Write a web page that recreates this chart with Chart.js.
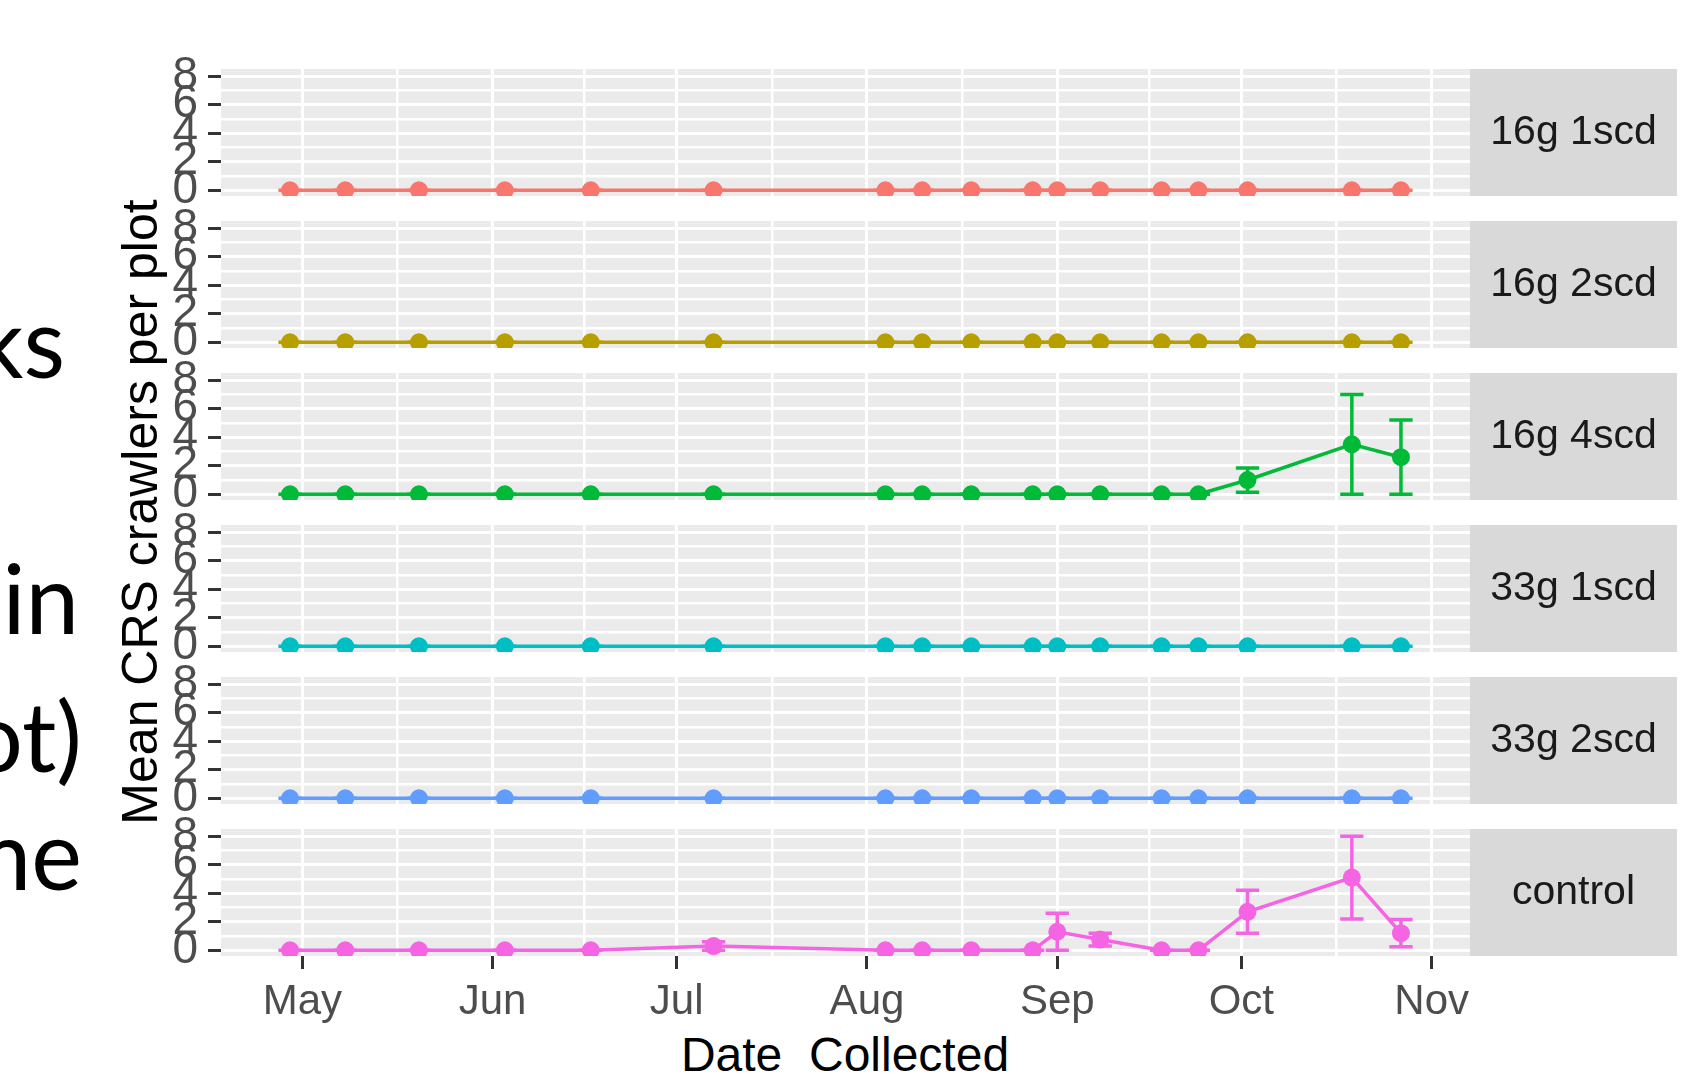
<!DOCTYPE html>
<html>
<head>
<meta charset="utf-8">
<script src="https://cdn.jsdelivr.net/npm/chart.js@4.4.1/dist/chart.umd.min.js"></script>
<style>
html,body{margin:0;padding:0;background:#fff;}
body{width:1695px;height:1074px;overflow:hidden;position:relative;}
canvas{position:absolute;left:0;}
.slide{position:absolute;width:400px;text-align:right;font-family:Lato,'Open Sans',sans-serif;font-size:96px;line-height:96px;height:96px;color:#000;white-space:nowrap;}
#ytitle{position:absolute;left:-210px;top:487px;width:700px;height:50px;line-height:50px;text-align:center;font-family:'Liberation Sans',Arial,sans-serif;font-size:50px;color:#000;transform:rotate(-90deg);white-space:pre;}
#xtitle{position:absolute;left:445px;top:1031px;width:800px;height:48px;line-height:48px;text-align:center;font-family:'Liberation Sans',Arial,sans-serif;font-size:48px;color:#000;white-space:pre;}
</style>
</head>
<body>
<div class="slide" style="left:-335px;top:293px;">works</div>
<div class="slide" style="left:-321px;top:549px;">in</div>
<div class="slide" style="left:-318px;top:687px;">(per plot)</div>
<div class="slide" style="left:-318px;top:805px;">time</div>
<div id="ytitle">Mean CRS crawlers per plot</div>
<div id="xtitle">Date  Collected</div>
<script>
// ---------------- data ----------------
const sampleDates = ['2019-04-29','2019-05-08','2019-05-20','2019-06-03','2019-06-17','2019-07-07','2019-08-04','2019-08-10','2019-08-18','2019-08-28','2019-09-01','2019-09-08','2019-09-18','2019-09-24','2019-10-02','2019-10-19','2019-10-27'];
const panelLabels = ['16g 1scd','16g 2scd','16g 4scd','33g 1scd','33g 2scd','control'];
const mean16g1scd = [0,0,0,0,0,0,0,0,0,0,0,0,0,0,0,0,0];
const se16g1scd   = [0,0,0,0,0,0,0,0,0,0,0,0,0,0,0,0,0];
const mean16g2scd = [0,0,0,0,0,0,0,0,0,0,0,0,0,0,0,0,0];
const se16g2scd   = [0,0,0,0,0,0,0,0,0,0,0,0,0,0,0,0,0];
const mean16g4scd = [0,0,0,0,0,0,0,0,0,0,0,0,0,0,1.0,3.5,2.6];
const se16g4scd   = [0,0,0,0,0,0,0,0,0,0,0,0,0,0,0.85,3.5,2.6];
const mean33g1scd = [0,0,0,0,0,0,0,0,0,0,0,0,0,0,0,0,0];
const se33g1scd   = [0,0,0,0,0,0,0,0,0,0,0,0,0,0,0,0,0];
const mean33g2scd = [0,0,0,0,0,0,0,0,0,0,0,0,0,0,0,0,0];
const se33g2scd   = [0,0,0,0,0,0,0,0,0,0,0,0,0,0,0,0,0];
const meanControl = [0,0,0,0,0,0.3,0,0,0,0,1.3,0.75,0,0,2.7,5.1,1.2];
const seControl   = [0,0,0,0,0,0.3,0,0,0,0,1.3,0.45,0,0,1.5,2.9,0.95];
const monthTickDates = ['2019-05-01','2019-06-01','2019-07-01','2019-08-01','2019-09-01','2019-10-01','2019-11-01'];
const monthTickLabels = ['May','Jun','Jul','Aug','Sep','Oct','Nov'];
const yTickValues = [0,2,4,6,8];

// ---------------- styling / layout ----------------
const seriesColors = ['#F8766D','#B79F00','#00BA38','#00BFC4','#619CFF','#F564E3'];
const panelMeans = [mean16g1scd,mean16g2scd,mean16g4scd,mean33g1scd,mean33g2scd,meanControl];
const panelSEs = [se16g1scd,se16g2scd,se16g4scd,se33g1scd,se33g2scd,seControl];
const panelTops = [69,221,373,525,677,829];
const PANEL_H = 127, PAD_TOP = 18, PAD_BOT = 18, LEFT_AXIS_W = 221, PANEL_RIGHT = 1470, STRIP_RIGHT = 1677, W = 1695;
const FONT = "'Liberation Sans', Arial, sans-serif";

const toDay = s => Date.UTC(+s.slice(0,4), +s.slice(5,7)-1, +s.slice(8,10)) / 864e5;
const sampleDays = sampleDates.map(toDay);
const majorX = monthTickDates.map(toDay);
const xMin = majorX[0] - 13.25, xMax = majorX[0] + 190.25;
const minorX = [];
for (let i = 0; i < majorX.length - 1; i++) minorX.push((majorX[i] + majorX[i+1]) / 2);
const xTickVals = majorX.concat(minorX).filter(v => v >= xMin && v <= xMax).sort((a,b)=>a-b);
const minorY = [];
for (let i = 0; i < yTickValues.length - 1; i++) minorY.push((yTickValues[i] + yTickValues[i+1]) / 2);
const yTickVals = yTickValues.concat(minorY).sort((a,b)=>a-b);
const CAP_DAYS = 1.9;

Chart.defaults.font.family = FONT;

const bgPlugin = {
  id: 'panelBg',
  beforeDraw(chart) {
    const a = chart.chartArea, c = chart.ctx;
    c.save(); c.fillStyle = '#EBEBEB'; c.fillRect(a.left, a.top, a.right - a.left, a.bottom - a.top); c.restore();
  }
};
const errPlugin = {
  id: 'errbars',
  afterDatasetsDraw(chart, args, opts) {
    const c = chart.ctx, xs = chart.scales.x, ys = chart.scales.y, a = chart.chartArea;
    c.save();
    c.beginPath(); c.rect(a.left, a.top, a.right - a.left, a.bottom - a.top); c.clip();
    c.strokeStyle = opts.color; c.lineWidth = 3.5; c.lineCap = 'butt';
    opts.means.forEach((m, i) => {
      const d = opts.days[i], se = opts.se[i];
      const x = xs.getPixelForValue(d);
      const hw = xs.getPixelForValue(d + CAP_DAYS) - x;
      const yl = ys.getPixelForValue(m - se), yh = ys.getPixelForValue(m + se);
      c.beginPath();
      c.moveTo(x, yl); c.lineTo(x, yh);
      c.moveTo(x - hw, yl); c.lineTo(x + hw, yl);
      c.moveTo(x - hw, yh); c.lineTo(x + hw, yh);
      c.stroke();
    });
    c.restore();
  }
};
const stripPlugin = {
  id: 'strip',
  afterDraw(chart, args, opts) {
    const a = chart.chartArea, c = chart.ctx;
    c.save();
    c.fillStyle = '#D9D9D9';
    c.fillRect(PANEL_RIGHT, a.top, STRIP_RIGHT - PANEL_RIGHT, a.bottom - a.top);
    c.fillStyle = '#1A1A1A';
    c.font = '41px ' + FONT;
    c.textAlign = 'center'; c.textBaseline = 'middle';
    c.fillText(opts.label, (PANEL_RIGHT + STRIP_RIGHT) / 2, (a.top + a.bottom) / 2);
    c.restore();
  }
};
const zeroPad = s => { s.paddingTop = 0; s.paddingBottom = 0; s.paddingLeft = 0; s.paddingRight = 0; };

panelLabels.forEach((label, p) => {
  const isLast = p === panelLabels.length - 1;
  const xAxisH = isLast ? 75 : 0;
  const cv = document.createElement('canvas');
  const h = PAD_TOP + PANEL_H + xAxisH + PAD_BOT;
  cv.width = W; cv.height = h;
  cv.style.width = W + 'px'; cv.style.height = h + 'px';
  cv.style.top = (panelTops[p] - PAD_TOP) + 'px';
  document.body.appendChild(cv);
  const color = seriesColors[p];
  new Chart(cv, {
    type: 'line',
    data: {
      datasets: [{
        label: label,
        data: sampleDays.map((d, i) => ({x: d, y: panelMeans[p][i]})),
        borderColor: color, backgroundColor: color,
        borderWidth: 3.5, pointRadius: 9, pointHoverRadius: 9, pointBorderWidth: 0,
        tension: 0
      }]
    },
    options: {
      responsive: false, animation: false, devicePixelRatio: 1, events: [],
      layout: {padding: {left: 0, right: W - PANEL_RIGHT, top: PAD_TOP, bottom: PAD_BOT}},
      plugins: {
        legend: {display: false}, tooltip: {enabled: false},
        errbars: {color: color, means: panelMeans[p], se: panelSEs[p], days: sampleDays},
        strip: {label: label}
      },
      scales: {
        x: {
          type: 'linear', min: xMin, max: xMax,
          afterBuildTicks: s => { s.ticks = xTickVals.map(v => ({value: v})); },
          afterFit: s => { s.height = xAxisH; zeroPad(s); },
          border: {display: false},
          grid: {
            color: '#FFFFFF',
            lineWidth: ctx => (ctx.tick && majorX.includes(ctx.tick.value)) ? 3 : 2.5,
            drawTicks: isLast, tickLength: 13, tickWidth: 3,
            tickColor: ctx => (ctx.tick && majorX.includes(ctx.tick.value)) ? '#333333' : 'rgba(0,0,0,0)'
          },
          ticks: {
            display: isLast, autoSkip: false, maxRotation: 0, minRotation: 0, padding: 8,
            color: '#4D4D4D', font: {size: 42, family: FONT},
            callback: v => { const k = majorX.indexOf(v); return k >= 0 ? monthTickLabels[k] : ''; }
          }
        },
        y: {
          min: -0.4, max: 8.5,
          afterBuildTicks: s => { s.ticks = yTickVals.map(v => ({value: v})); },
          afterFit: s => { s.width = LEFT_AXIS_W; zeroPad(s); },
          border: {display: false},
          grid: {
            color: '#FFFFFF',
            lineWidth: ctx => (ctx.tick && yTickValues.includes(ctx.tick.value)) ? 3 : 2.5,
            drawTicks: true, tickLength: 13, tickWidth: 3,
            tickColor: ctx => (ctx.tick && yTickValues.includes(ctx.tick.value)) ? '#333333' : 'rgba(0,0,0,0)'
          },
          ticks: {
            autoSkip: false, padding: 10, color: '#4D4D4D', font: {size: 46, family: FONT},
            callback: v => yTickValues.includes(v) ? String(v) : ''
          }
        }
      }
    },
    plugins: [bgPlugin, errPlugin, stripPlugin]
  });
});
</script>
</body>
</html>
